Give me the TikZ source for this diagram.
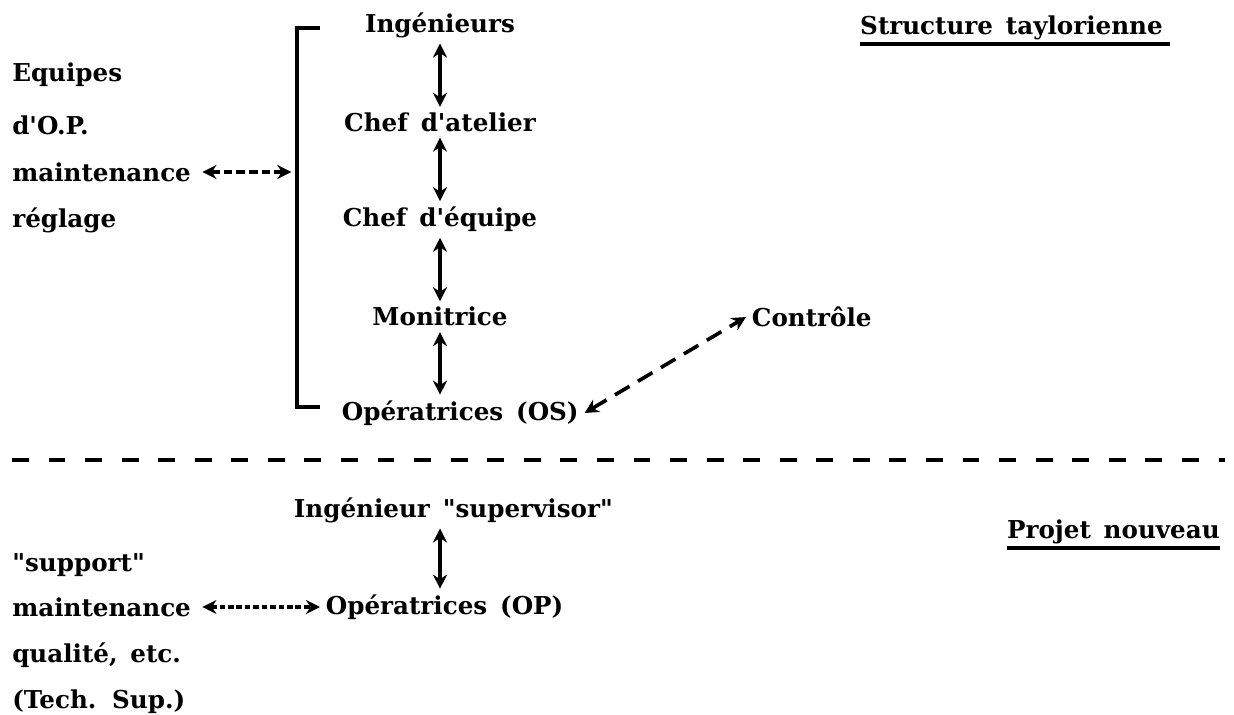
\documentclass[tikz,border=0pt]{standalone}
\usepackage{fontspec}
\newfontfamily\scanfont{DejaVu Serif}[WordSpace=1.5]
\usetikzlibrary{arrows.meta,positioning}
\tikzset{
    node distance=2.43cm, % one rank of the hierarchy
    }

\begin{document}
\begin{tikzpicture}[x=0.025cm,y=-0.025cm,
font=\scanfont\bfseries\fontsize{17.5}{20}\selectfont,
rank/.style={inner sep=4pt},
sidetext/.style={anchor=west, inner sep=0pt},
title/.style={inner sep=0pt},
link/.style={line width=2.6pt, {Stealth[length=10pt,width=10pt]}-{Stealth[length=10pt,width=10pt]}},
dashlink/.style={line width=2.6pt, dash pattern=on 6pt off 3pt, {Stealth[length=10pt,width=10pt]}-{Stealth[length=10pt,width=10pt]}},
bracket/.style={line width=3pt},
sepline/.style={line width=3pt, dash pattern=on 12pt off 14pt},
uline/.style={line width=2.8pt},
]
\useasboundingbox (0,0) rectangle (1234,715);

% structure taylorienne
\node[rank] (ing) at (440,25) {Ingénieurs};
\node[rank] (chefat) [below of=ing] {Chef d'atelier};
\node[rank] (chefeq) [below of=chefat] {Chef d'équipe};
\node[rank] (monit) [below of=chefeq] {Monitrice};
\node[rank, anchor=west] (opos) at (336,413) {Opératrices (OS)};
\node[rank, anchor=west] (contr) at (746,317) {Contrôle};

\node[sidetext] (equipes) at (12,75) {Equipes};
\node[sidetext] (dop) at (12,125) {d'O.P.};
\node[sidetext] (maint) at (12,172) {maintenance};
\node[sidetext] (regl) at (12,220) {réglage};

\node[title, anchor=east] (tstruct) at (1163,28) {Structure taylorienne};

\coordinate (brtop) at (297,28);
\coordinate (brbot) at (297,407);
\draw[bracket] (brtop) ++(23,0) -- (brtop) -- (brbot) -- ++(23,0);

\draw[link] (ing) -- (chefat);
\draw[link] (chefat) -- (chefeq);
\draw[link] (chefeq) -- (monit);
\draw[link] (monit) -- (monit |- opos.north);
\draw[dashlink, shorten <=8pt, shorten >=4pt] (maint.east) -- (maint.east -| brtop);
\draw[dashlink, dash pattern=on 12pt off 7pt] (opos.east) -- (contr.west);
\draw[uline] ([yshift=-7pt]tstruct.base west) -- ([yshift=-7pt, xshift=5pt]tstruct.base east);

% separation
\coordinate (sepl) at (12,460);
\coordinate (sepr) at (1225,460);
\draw[sepline] (sepl) -- (sepr);

% projet nouveau
\coordinate (colx) at (440,0);
\node[rank, anchor=west] (supv) at (288,510) {Ingénieur "supervisor"};
\node[rank, anchor=west] (opop) at (320,607) {Opératrices (OP)};

\node[sidetext] (support) at (12,565) {"support"};
\node[sidetext] (maintb) at (12,607) {maintenance};
\node[sidetext] (qual) at (12,655) {qualité, etc.};
\node[sidetext] (tech) at (12,702) {(Tech. Sup.)};

\node[title, anchor=east] (tprojet) at (1220,532) {Projet nouveau};

\draw[link] (supv.south -| colx) -- (opop.north -| colx);
\draw[dashlink, dash pattern=on 4pt off 2pt, shorten <=8pt] (maintb.east) -- (opop.west);
\draw[uline] ([yshift=-7pt]tprojet.base west) -- ([yshift=-7pt]tprojet.base east);
\end{tikzpicture}
\end{document}
